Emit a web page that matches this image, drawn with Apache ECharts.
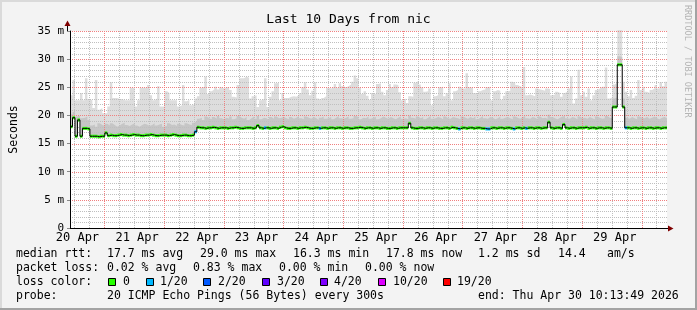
<!DOCTYPE html>
<html><head><meta charset="utf-8">
<script src="https://cdn.jsdelivr.net/npm/echarts@6/dist/echarts.min.js"></script>
<style>html,body{margin:0;padding:0;background:#f3f3f3}#c{width:697px;height:310px}</style>
</head><body><div id="c"></div>
<script>
// ---- data ----
const START_HOUR = 10 + 13/60 + 49/3600;   // clock time at left edge (20 Apr 10:13:49)
const SPAN_HOURS = 240;                     // 10 days, one bucket per hour
const Y_MAX = 35;
const dayLabels = ['20 Apr','21 Apr','22 Apr','23 Apr','24 Apr','25 Apr','26 Apr','27 Apr','28 Apr','29 Apr'];
const yTicks = [0,5,10,15,20,25,30,35];

const medianRtt = [
 18.0,19.6,16.3,19.2,16.3,17.7,17.7,17.6,16.3,16.3,16.3,16.2,16.3,16.3,16.9,16.4,
 16.5,16.4,16.4,16.5,16.6,16.5,16.5,16.4,16.5,16.6,16.5,16.5,16.4,16.4,16.5,16.5,16.6,16.5,16.4,16.4,
 16.5,16.5,16.5,16.4,16.5,16.6,16.5,16.4,16.4,16.5,16.5,16.4,16.4,16.5,
 17.1,
 17.9,17.8,17.8,17.7,17.8,17.8,17.9,17.8,17.7,17.8,17.8,
 17.8,17.7,17.8,17.8,17.9,17.8,17.7,17.7,17.8,17.8,17.8,17.7,17.8,18.2,17.8,17.7,17.8,17.8,17.7,17.8,17.8,17.7,17.9,18.0,
 17.8,17.7,17.7,17.8,17.8,17.7,17.8,17.8,17.9,17.8,17.7,17.7,17.8,17.8,17.7,17.8,17.8,17.7,17.8,17.8,17.7,17.8,17.8,17.7,
 17.8,17.8,17.7,17.7,17.8,17.8,17.9,17.8,17.7,17.8,17.8,17.7,17.8,17.8,17.7,17.8,17.8,17.7,17.7,17.8,17.8,17.7,17.8,17.8,
 17.8,17.8,18.6,17.8,17.7,17.7,17.8,17.8,17.7,17.8,17.8,17.7,17.8,17.8,17.7,17.7,17.8,17.8,17.7,17.9,17.8,17.7,17.6,17.8,
 17.8,17.7,17.8,17.8,17.7,17.8,17.8,17.7,17.7,17.6,17.6,17.8,17.8,17.7,17.8,17.8,17.7,17.8,17.8,17.7,17.6,17.8,17.8,17.7,
 17.8,17.7,17.8,17.8,17.7,17.8,17.8,17.7,17.8,17.8,18.8,17.8,17.7,17.8,17.8,17.7,18.4,17.8,17.7,17.8,17.8,17.7,17.8,17.8,
 17.8,17.9,17.7,17.8,17.8,17.7,17.8,17.8,17.7,17.8,17.8,17.7,21.5,21.5,29.0,29.0,21.5,17.8,17.8,17.7,17.8,17.8,17.7,17.8,
 17.8,17.7,17.8,17.8,17.7,17.8,17.8,17.7,17.8,17.8
];
const smokeMid = [
 20.2,20.6,19.8,20.0,19.5,19.6,19.8,19.2,
 18.2,18.4,18.0,18.6,18.3,18.1,18.5,18.2,18.6,18.3,18.0,18.2,18.5,18.7,18.3,18.1,18.4,18.6,18.2,18.0,
 18.3,18.5,18.4,18.1,18.3,18.6,18.2,18.4,18.5,18.0,18.2,18.6,18.3,18.4,18.1,18.5,18.3,18.2,18.6,18.4,18.3,18.7,
 19.0,
 19.4,19.6,19.2,19.8,19.5,19.3,19.7,19.4,19.9,19.5,19.3,
 19.6,19.4,19.8,19.3,19.5,19.9,19.6,19.4,19.7,19.2,19.5,19.8,19.4,19.9,19.3,19.6,19.5,19.2,19.7,19.4,19.8,19.5,19.6,19.7,
 19.5,19.3,19.7,19.4,19.6,19.9,19.5,19.3,19.8,19.6,19.4,19.7,19.5,19.2,19.6,19.8,19.4,19.5,19.7,19.3,19.6,19.9,19.5,19.4,
 19.6,19.8,19.4,19.5,19.9,19.7,19.3,19.6,19.5,19.8,19.4,19.6,19.7,19.3,19.5,19.8,19.6,19.4,19.7,19.5,19.3,19.6,19.8,19.4,
 19.5,19.3,20.0,19.6,19.4,19.8,19.5,19.7,19.3,19.6,19.9,19.4,19.5,19.7,19.6,19.3,19.8,19.5,19.4,19.7,19.6,19.5,19.3,19.8,
 19.6,19.4,19.7,19.5,19.8,19.3,19.6,19.9,19.5,19.4,19.7,19.6,19.3,19.5,19.8,19.4,19.6,19.7,19.5,19.3,19.8,19.6,19.4,19.7,
 19.9,19.5,19.4,19.7,19.6,19.3,19.8,19.5,19.6,19.4,20.1,19.7,19.5,19.3,19.6,19.8,19.9,19.5,19.4,19.7,19.6,19.3,19.8,19.5,
 19.6,19.4,19.7,19.5,19.3,19.8,19.6,19.4,19.5,19.9,19.6,19.5,23.0,23.2,30.5,30.4,23.0,19.6,19.4,19.7,19.5,19.3,19.8,19.6,
 19.5,19.7,19.4,19.6,19.8,19.5,19.3,19.6,19.7,19.5
];
const smokeTop = [
 23.6,26.3,22.7,22.7,24.0,22.7,26.6,22.9,22.7,21.3,26.3,21.0,21.3,20.4,20.4,21.6,25.9,23.1,23.1,22.9,
 22.9,22.7,22.7,22.7,24.9,24.9,21.6,22.7,24.9,24.9,24.9,25.4,23.6,22.7,23.0,25.2,21.6,21.6,
 24.3,24.0,22.7,22.7,22.7,21.6,21.8,25.4,22.5,22.8,21.8,22.0,23.0,23.4,24.9,25.1,26.9,23.8,24.3,24.6,25.1,24.6,25.0,24.8,
 25.0,25.0,24.5,23.3,23.2,25.4,26.6,26.6,26.9,26.7,23.0,23.4,23.6,21.5,22.7,22.9,26.6,21.5,23.3,24.3,25.7,25.8,22.7,24.0,
 23.1,23.1,23.3,23.4,23.3,23.6,24.0,25.0,25.9,24.6,23.6,24.4,25.9,23.0,22.7,23.1,23.4,24.9,24.8,25.0,25.6,24.9,25.7,25.2,
 25.0,25.2,25.5,26.0,27.1,26.6,25.0,23.8,24.3,23.5,22.8,24.0,23.8,25.6,25.7,24.2,23.6,24.5,25.6,25.0,25.5,25.4,24.1,22.7,
 23.0,22.2,23.4,23.3,25.8,26.1,25.5,25.0,24.2,24.3,24.8,21.8,23.4,23.6,25.0,25.1,23.4,24.0,25.7,22.7,24.3,24.5,25.1,24.8,
 24.8,27.5,25.0,24.9,24.0,23.8,24.3,24.5,24.6,25.0,25.1,22.7,24.3,24.5,24.4,22.8,23.5,24.3,24.4,26.0,25.8,25.4,25.2,25.0,
 28.6,23.6,23.7,23.6,23.4,24.8,24.6,24.5,24.4,24.8,24.7,23.6,23.7,24.2,24.0,23.3,24.0,24.2,24.8,26.9,22.1,23.0,28.1,23.6,
 24.2,23.3,24.8,22.7,23.6,24.5,24.8,25.1,25.1,28.5,23.0,23.2,25.5,25.8,35.3,35.3,26.0,24.2,23.4,24.5,23.1,23.5,26.3,24.5,
 25.1,24.2,24.0,24.5,24.8,25.4,24.8,25.9,25.2,26.0
];
// buckets with packet loss: [bucket index, lost pings of 20]
const lossBuckets = [[50,1],[78,1],[100,1],[156,1],[167,1],[168,1],[178,1],[183,1],[223,1]];
const lossLevels = ['0','1/20','2/20','3/20','4/20','10/20','19/20'];
const lossColors = ['#26ff00','#00b8ff','#0059ff','#5e00ff','#7e00ff','#dd00ff','#ff0000'];
const lossCounts = [0,1,2,3,4,10,19];

const legendRtt = ['median rtt:','17.7 ms avg','29.0 ms max','16.3 ms min','17.8 ms now','1.2 ms sd','14.4','am/s'];
const legendLoss = ['packet loss:','0.02 % avg','0.83 % max','0.00 % min','0.00 % now'];
const legendProbe = ['probe:','20 ICMP Echo Pings (56 Bytes) every 300s','end: Thu Apr 30 10:13:49 2026'];
const titleText = 'Last 10 Days from nic';
const creditText = 'RRDTOOL / TOBI OETIKER';

// ---- build ----
const N = medianRtt.length;
const lossOf = new Array(N).fill(0);
lossBuckets.forEach(([i, l]) => { lossOf[i] = l; });
const colorForLoss = l => { let c = lossColors[0]; lossCounts.forEach((n, j) => { if (l >= n) c = lossColors[j]; }); return c; };
const stepData = arr => { const d = arr.map((v, i) => [i, v]); d.push([N, arr[N-1]]); return d; };
const lossData = medianRtt.map((m, i) => [i, m, lossOf[i]]);

const MONO = '"DejaVu Sans Mono", monospace';
const isInt = v => Math.abs(v - Math.round(v)) < 1e-6;

// grid lines (rrdtool style): minor every 6 h / 1 ms, major at midnight / 5 ms
// item: [value, horizontal?, major?]
const minorLines = [], majorLines = [];
for (let h = Math.ceil(START_HOUR / 6) * 6; h < START_HOUR + SPAN_HOURS; h += 6) {
  (h % 24 === 0 ? majorLines : minorLines).push([h - START_HOUR, 0, h % 24 === 0 ? 1 : 0]);
}
for (let v = 1; v <= Y_MAX; v++) {
  (v % 5 === 0 ? majorLines : minorLines).push([v, 1, v % 5 === 0 ? 1 : 0]);
}
const gridLineData = minorLines.concat(majorLines);

const chart = echarts.init(document.getElementById('c'), null, {renderer: 'canvas'});

const graphics = [];
// frame
graphics.push({type:'rect', shape:{x:0,y:0,width:697,height:2}, style:{fill:'#dadada'}, silent:true, z:-1});
graphics.push({type:'rect', shape:{x:0,y:0,width:2,height:310}, style:{fill:'#dadada'}, silent:true, z:-1});
graphics.push({type:'rect', shape:{x:0,y:308,width:697,height:2}, style:{fill:'#a3a3a3'}, silent:true, z:-1});
graphics.push({type:'rect', shape:{x:695,y:0,width:2,height:310}, style:{fill:'#a3a3a3'}, silent:true, z:-1});
// axis extensions + arrows
graphics.push({type:'line', shape:{x1:67.5,y1:31,x2:67.5,y2:25}, style:{stroke:'#000', lineWidth:1}, silent:true, z:10});
graphics.push({type:'polygon', shape:{points:[[64.5,26],[67.5,20.5],[70.5,26]]}, style:{fill:'#7f0000'}, silent:true, z:10});
graphics.push({type:'line', shape:{x1:667,y1:228.5,x2:669,y2:228.5}, style:{stroke:'#000', lineWidth:1}, silent:true, z:10});
graphics.push({type:'polygon', shape:{points:[[668,225.5],[673.5,228.5],[668,231.5]]}, style:{fill:'#7f0000'}, silent:true, z:10});
// credit
graphics.push({type:'text', x:687, y:5, rotation:-Math.PI/2, silent:true,
  style:{text:creditText, fill:'#b4b4b4', font:'8.5px ' + MONO, align:'left', verticalAlign:'middle'}});
// legend
const LF = '11.5px ' + MONO;
const addText = (t, x, y) => graphics.push({type:'text', silent:true, style:{text:t, x:x, y:y, fill:'#000', font:LF, align:'left', verticalAlign:'middle'}});
const rttX = [16,107,200,293,386,478,558,607];
legendRtt.forEach((t, i) => addText(t, rttX[i], 254));
const lossX = [16,107,193,279,365];
legendLoss.forEach((t, i) => addText(t, lossX[i], 268));
addText('loss color:', 16, 282);
const boxX = [108,146,203,262,320,378,443];
const lblX = [123,160,218,277,334,393,457];
lossLevels.forEach((t, i) => {
  graphics.push({type:'rect', silent:true, shape:{x:boxX[i]+0.5, y:278.5, width:7, height:7}, style:{fill:lossColors[i], stroke:'#000', lineWidth:1}});
  addText(t, lblX[i], 282);
});
const probeX = [16,107,478];
legendProbe.forEach((t, i) => addText(t, probeX[i], 296));

const option = {
  animation: false,
  backgroundColor: '#f3f3f3',
  title: {text: titleText, left: 'center', top: 12, padding: 0,
    textStyle: {fontFamily: MONO, fontSize: 13, fontWeight: 'normal', color: '#000', lineHeight: 16}},
  grid: {left: 67, right: 30, top: 31, bottom: 82, show: true, backgroundColor: '#ffffff', borderWidth: 0},
  xAxis: [
    {type:'value', position:'bottom', min:0, max:SPAN_HOURS, z:6,
      axisLine:{show:true, onZero:false, lineStyle:{color:'#000', width:1}},
      axisTick:{show:false}, axisLabel:{show:false}, splitLine:{show:false}},
    {type:'value', position:'bottom', min:(START_HOUR-12)/24, max:(START_HOUR-12+SPAN_HOURS)/24, minInterval:1, maxInterval:1, z:4,
      axisLine:{show:false}, axisTick:{show:false}, splitLine:{show:false},
      axisLabel:{show:true, interval:0, showMinLabel:false, showMaxLabel:false, hideOverlap:false, margin:4,
        color:'#000', fontFamily:MONO, fontSize:12, padding:[0,0,0,6],
        formatter: v => (isInt(v) && dayLabels[Math.round(v)]) ? dayLabels[Math.round(v)] : ''}}
  ],
  yAxis: [
    {type:'value', position:'left', min:0, max:Y_MAX, interval:5, z:6,
      axisLine:{show:true, onZero:false, lineStyle:{color:'#000', width:1}},
      axisTick:{show:true, length:3, lineStyle:{color:'#888'}},
      axisLabel:{show:true, margin:6, color:'#000', fontFamily:MONO, fontSize:11,
        formatter: v => yTicks.indexOf(v) < 0 ? '' : (v === 0 ? '0' : v + ' m')},
      splitLine:{show:false},
      name:'Seconds', nameLocation:'middle', nameRotate:90, nameGap:50,
      nameTextStyle:{fontFamily:MONO, fontSize:11.5, color:'#000'}}
  ],
  series: [
    // smoke drawn back to front: outer band, inner band, then blank below the median
    {type:'line', name:'smokeTop', step:'end', data:stepData(smokeTop), symbol:'none',
      lineStyle:{opacity:0}, areaStyle:{color:'#dddddd', opacity:1, origin:'start'}, silent:true, z:2},
    {type:'line', name:'smokeMid', step:'end', data:stepData(smokeMid), symbol:'none',
      lineStyle:{opacity:0}, areaStyle:{color:'#c6c6c6', opacity:1, origin:'start'}, silent:true, z:2},
    {type:'line', name:'below', step:'end', data:stepData(medianRtt), symbol:'none',
      lineStyle:{opacity:0}, areaStyle:{color:'#ffffff', opacity:1, origin:'start'}, silent:true, z:2},
    // dotted grid drawn over the smoke
    {type:'custom', name:'grid', data:gridLineData, silent:true, z:4, clip:false,
      renderItem: (params, api) => {
        const v = api.value(0), horiz = api.value(1), major = api.value(2);
        let shape;
        if (horiz) {
          const a = api.coord([0, v]), b = api.coord([SPAN_HOURS, v]);
          const y = Math.round(a[1]) + 0.5;
          shape = {x1: a[0], y1: y, x2: b[0], y2: y};
        } else {
          const a = api.coord([v, 0]), b = api.coord([v, Y_MAX]);
          const x = Math.round(a[0]) + 0.5;
          shape = {x1: x, y1: a[1], x2: x, y2: b[1]};
        }
        return {type:'line', shape: shape,
          style:{stroke: major ? '#f08080' : '#bfbfbf', lineWidth: 1, lineDash: [1, 1], fill: null}};
      }},
    {type:'line', name:'median', step:'end', data:stepData(medianRtt), symbol:'none',
      lineStyle:{color:'#000', width:1}, silent:true, z:6},
    {type:'custom', name:'loss', data:lossData, silent:true, z:6,
      renderItem: (params, api) => {
        const i = api.value(0), m = api.value(1), l = api.value(2);
        const p0 = api.coord([i, m + 0.27]);
        const p1 = api.coord([i + 1, m - 0.27]);
        return {type:'rect', shape:{x:p0[0], y:p0[1], width:p1[0]-p0[0], height:p1[1]-p0[1]},
          style:{fill: colorForLoss(l)}};
      }}
  ],
  graphic: graphics
};
chart.setOption(option);
</script></body></html>
